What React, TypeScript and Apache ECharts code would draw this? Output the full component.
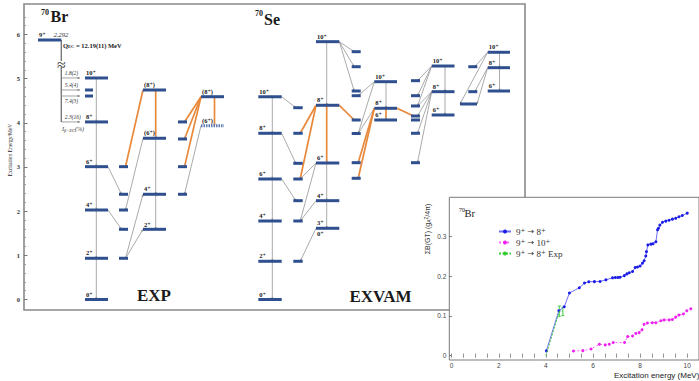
import { useEffect, useRef } from "react";
import * as echarts from "echarts";

// ---------------- DATA ----------------
type Level = { id: string; col: string; e: number; label?: string; below?: string; note?: string; dotted?: boolean };

// 70Br experimental levels (MeV)
const br70Levels: Level[] = [
  { id: "P9", col: "Q", e: 5.875, label: "9⁺", note: "2.292" },
  { id: "A10", col: "A", e: 5.015, label: "10⁺" },
  { id: "A8", col: "A", e: 4.02, label: "8⁺" },
  { id: "A6", col: "A", e: 3.007, label: "6⁺" },
  { id: "A4", col: "A", e: 2.026, label: "4⁺" },
  { id: "A2", col: "A", e: 0.933, label: "2⁺" },
  { id: "A0", col: "A", e: 0, label: "0⁺" },
  { id: "a1", col: "a", e: 4.743 },
  { id: "a2", col: "a", e: 4.607 },
  { id: "b1", col: "B", e: 3.007 },
  { id: "b2", col: "B", e: 2.382 },
  { id: "b3", col: "B", e: 2.026 },
  { id: "b4", col: "B", e: 1.589 },
  { id: "b5", col: "B", e: 0.933 },
  { id: "C8", col: "C", e: 4.743, label: "(8⁺)" },
  { id: "C6", col: "C", e: 3.65, label: "(6⁺)" },
  { id: "C4", col: "C", e: 2.382, label: "4⁺" },
  { id: "C2", col: "C", e: 1.589, label: "2⁺" },
  { id: "d1", col: "D", e: 4.02 },
  { id: "d2", col: "D", e: 3.634 },
  { id: "d3", col: "D", e: 3.007 },
  { id: "d4", col: "D", e: 2.382 },
  { id: "E8", col: "E", e: 4.591, label: "(8⁺)" },
  { id: "E6", col: "E", e: 3.935, label: "(6⁺)", dotted: true },
];

// 70Se EXVAM levels (MeV)
const se70Levels: Level[] = [
  { id: "F10", col: "F", e: 4.59, label: "10⁺" },
  { id: "F8", col: "F", e: 3.763, label: "8⁺" },
  { id: "F6", col: "F", e: 2.728, label: "6⁺" },
  { id: "F4", col: "F", e: 1.777, label: "4⁺" },
  { id: "F2", col: "F", e: 0.865, label: "2⁺" },
  { id: "F0", col: "F", e: 0, label: "0⁺" },
  { id: "g1", col: "G", e: 4.342 },
  { id: "g2", col: "G", e: 3.763 },
  { id: "g3", col: "G", e: 3.083 },
  { id: "g4", col: "G", e: 2.728 },
  { id: "g5", col: "G", e: 2.237 },
  { id: "g6", col: "G", e: 1.777 },
  { id: "g7", col: "G", e: 0.865 },
  { id: "H10", col: "H", e: 5.837, label: "10⁺" },
  { id: "H8", col: "H", e: 4.397, label: "8⁺" },
  { id: "H6", col: "H", e: 3.09, label: "6⁺" },
  { id: "H4", col: "H", e: 2.237, label: "4⁺" },
  { id: "H3", col: "H", e: 1.612, label: "3⁺", below: "0⁺" },
  { id: "i1", col: "I", e: 5.61 },
  { id: "i2", col: "I", e: 5.27 },
  { id: "i3", col: "I", e: 4.72 },
  { id: "i4", col: "I", e: 4.614 },
  { id: "i5", col: "I", e: 4.064 },
  { id: "i6", col: "I", e: 3.758 },
  { id: "i7", col: "I", e: 3.097 },
  { id: "i8", col: "I", e: 2.744 },
  { id: "J10", col: "J", e: 4.931, label: "10⁺" },
  { id: "J8", col: "J", e: 4.329, label: "8⁺" },
  { id: "J6", col: "J", e: 4.064, label: "6⁺" },
  { id: "k1", col: "K", e: 4.954 },
  { id: "k2", col: "K", e: 4.614 },
  { id: "k3", col: "K", e: 4.381 },
  { id: "k4", col: "K", e: 4.154 },
  { id: "k5", col: "K", e: 4.064 },
  { id: "k6", col: "K", e: 3.763 },
  { id: "k7", col: "K", e: 3.097 },
  { id: "L10", col: "L", e: 5.286, label: "10⁺" },
  { id: "L8", col: "L", e: 4.705, label: "8⁺" },
  { id: "L6", col: "L", e: 4.177, label: "6⁺" },
  { id: "m1", col: "M", e: 5.27 },
  { id: "m2", col: "M", e: 4.705 },
  { id: "w1", col: "W", e: 4.426 },
  { id: "N10", col: "N", e: 5.597, label: "10⁺" },
  { id: "N8", col: "N", e: 5.248, label: "8⁺" },
  { id: "N6", col: "N", e: 4.72, label: "6⁺" },
];

// gamma transitions [from, to, anchor?]
const br70GrayGammas: string[][] = [
  ["A10", "A8"], ["A8", "A6"], ["A6", "A4"], ["A4", "A2"], ["A2", "A0"],
  ["A6", "b2"], ["A4", "b4"], ["C6", "b3"], ["b5", "C4"], ["b5", "C2"],
  ["C6", "C4"], ["C4", "C2"], ["E6", "d4"],
];
const br70OrangeGammas: string[][] = [
  ["b1", "C8"], ["C8", "C6"], ["E8", "d1"], ["E8", "d2"], ["E8", "d3"], ["E8", "E6"],
];
const se70GrayGammas: string[][] = [
  ["F10", "F8"], ["F8", "F6"], ["F6", "F4"], ["F4", "F2"], ["F2", "F0"],
  ["F10", "g1"], ["F8", "g3"], ["F6", "g5"],
  ["H10", "H8"], ["H6", "H4"], ["H4", "H3"], ["H6", "g4"], ["H6", "g6"], ["H4", "g6"], ["H3", "g7"],
  ["H10", "i1"], ["H10", "i2"], ["H10", "i3"],
  ["J10", "J8"], ["J10", "i4"], ["J10", "i6"], ["J8", "i6"],
  ["L10", "L8"], ["L8", "L6"], ["L10", "k1"], ["L10", "k2"], ["L10", "k3"],
  ["L8", "k3"], ["L8", "k4"], ["L8", "k6"], ["L8", "k7"],
  ["N10", "N8"], ["N8", "N6"], ["N10", "m1"], ["N10", "w1", "L"], ["N8", "m2"], ["N8", "w1", "R"],
];
const se70OrangeGammas: string[][] = [
  ["H8", "H6"], ["H8", "g2"], ["H8", "g4"], ["H8", "i5"],
  ["J8", "J6"], ["J8", "i7"], ["J8", "i8"], ["J8", "k4"],
];

// beta feeding from the 9+ parent (I_beta+EC %)
const betaFeeding = [
  { to: "A10", intensity: "1.8(2)", below: false },
  { to: "a1", intensity: "5.4(4)", below: false },
  { to: "a2", intensity: "7.4(3)", below: true },
  { to: "A8", intensity: "2.3(16)", below: false },
];

// inset: summed B(GT) vs excitation energy
const blueEx = [4.02, 4.55, 4.78, 5.0, 5.42, 5.64, 5.82, 6.06, 6.3, 6.55, 6.83, 6.95, 7.06, 7.15, 7.33, 7.44, 7.54, 7.68, 7.79, 7.89, 8.0, 8.1, 8.17, 8.24, 8.27, 8.33, 8.46, 8.55, 8.67, 8.74, 8.78, 8.84, 8.95, 9.09, 9.23, 9.37, 9.51, 9.65, 9.79, 10.0];
const blueBGT = [0.012, 0.113, 0.123, 0.158, 0.171, 0.183, 0.186, 0.1865, 0.187, 0.191, 0.196, 0.197, 0.197, 0.1975, 0.2016, 0.206, 0.209, 0.212, 0.222, 0.2235, 0.226, 0.233, 0.239, 0.251, 0.262, 0.279, 0.281, 0.282, 0.287, 0.317, 0.321, 0.329, 0.336, 0.339, 0.341, 0.344, 0.346, 0.35, 0.353, 0.359];
const pinkEx = [5.17, 5.57, 5.92, 6.27, 6.52, 6.69, 6.86, 7.34, 7.47, 7.68, 7.82, 7.96, 8.08, 8.17, 8.31, 8.52, 8.67, 8.88, 9.02, 9.23, 9.37, 9.51, 9.65, 9.84, 9.98, 10.15];
const pinkBGT = [0.0118, 0.0126, 0.0169, 0.0287, 0.027, 0.0287, 0.033, 0.033, 0.048, 0.0496, 0.056, 0.058, 0.065, 0.079, 0.082, 0.083, 0.083, 0.088, 0.09, 0.09, 0.091, 0.097, 0.1025, 0.105, 0.113, 0.118];
const greenEx = [4.0, 4.57, 4.72];
const greenBGT = [0.0, 0.112, 0.112];
const greenLow = [0.0, 0.099, 0.101];
const greenHigh = [0.0, 0.125, 0.122];

const mainTicks = [0, 1, 2, 3, 4, 5, 6];
const insetYTicks = [0, 0.1, 0.2, 0.3];
const insetXLabels = [0, 2, 4, 6, 8, 10];

// ---------------- LAYOUT ----------------
const COLUMNS: Record<string, { x0: number; x1: number; vx?: number }> = {
  Q: { x0: 38, x1: 61.3 },
  A: { x0: 85, x1: 108, vx: 96.3 },
  a: { x0: 85, x1: 93 },
  B: { x0: 119, x1: 128 },
  C: { x0: 143, x1: 166, vx: 155.7 },
  D: { x0: 178, x1: 187 },
  E: { x0: 201, x1: 224, vx: 214.5 },
  F: { x0: 258.3, x1: 281.7, vx: 272.3 },
  G: { x0: 293.3, x1: 302.7 },
  H: { x0: 316, x1: 339.3, vx: 326.7 },
  I: { x0: 351.7, x1: 360.7 },
  J: { x0: 374.3, x1: 397, vx: 386 },
  K: { x0: 411, x1: 420 },
  L: { x0: 431.7, x1: 454.5, vx: 445 },
  M: { x0: 468.3, x1: 477.3 },
  W: { x0: 460, x1: 477 },
  N: { x0: 487.7, x1: 510, vx: 499.5 },
};
const FEED_END_X = 80;
const BREAK_E = 5.33;

const LEVEL_COLOR = "#2f4f8f";
const GRAY = "#a0a0a0";
const ORANGE = "#e8893c";
const SERIF = '"Liberation Serif", "DejaVu Serif", serif';
const SANS = '"Liberation Sans", Arial, sans-serif';

const allLevels = [...br70Levels, ...se70Levels];
const levelById = new Map(allLevels.map((l) => [l.id, l]));

function gammaSegment(t: string[]): number[] {
  const a = levelById.get(t[0])!;
  const b = levelById.get(t[1])!;
  const ca = COLUMNS[a.col];
  const cb = COLUMNS[b.col];
  if (a.col === b.col) return [ca.vx!, a.e, ca.vx!, b.e];
  const ins = (c: { x0: number; x1: number }) => (c.x1 - c.x0 < 12 ? 2.5 : 0);
  let xa: number;
  let xb: number;
  if (ca.x1 <= cb.x0 + 0.1) {
    xa = ca.x1 - ins(ca);
    xb = cb.x0 + ins(cb);
  } else {
    xa = ca.x0 + ins(ca);
    xb = cb.x1 - ins(cb);
  }
  if (t[2] === "L") xb = cb.x0;
  if (t[2] === "R") xb = cb.x1;
  return [xa, a.e, xb, b.e];
}

function arrowHead(x1: number, y1: number, x2: number, y2: number, color: string, s = 2.6) {
  const dx = x2 - x1;
  const dy = y2 - y1;
  const len = Math.hypot(dx, dy) || 1;
  const ux = dx / len;
  const uy = dy / len;
  return {
    type: "polygon",
    shape: {
      points: [
        [x2, y2],
        [x2 - ux * s - uy * s * 0.45, y2 - uy * s + ux * s * 0.45],
        [x2 - ux * s + uy * s * 0.45, y2 - uy * s - ux * s * 0.45],
      ],
    },
    style: { fill: color },
  };
}

function txt(text: string, x: number, y: number, font: string, align = "left", valign = "middle", extra: any = {}) {
  return {
    type: "text",
    x,
    y,
    z: 10,
    style: { text, font, fill: "#1a1a1a", align, verticalAlign: valign, textAlign: align, textVerticalAlign: valign, ...extra },
  };
}

function gammaSeries(list: string[][], color: string, width: number, z: number) {
  return {
    type: "custom",
    xAxisIndex: 0,
    yAxisIndex: 0,
    z,
    silent: true,
    data: list.map(gammaSegment),
    encode: { x: [0, 2], y: [1, 3] },
    renderItem: (_p: any, api: any) => {
      const p1 = api.coord([api.value(0), api.value(1)]);
      const p2 = api.coord([api.value(2), api.value(3)]);
      return {
        type: "group",
        children: [
          { type: "line", shape: { x1: p1[0], y1: p1[1], x2: p2[0], y2: p2[1] }, style: { stroke: color, lineWidth: width } },
          arrowHead(p1[0], p1[1], p2[0], p2[1], color === ORANGE ? "#999" : "#888", 2.2),
        ],
      };
    },
  };
}

function buildOption(): any {
  const levelSeries = {
    type: "custom",
    xAxisIndex: 0,
    yAxisIndex: 0,
    z: 5,
    silent: true,
    data: allLevels.map((l) => [COLUMNS[l.col].x0, COLUMNS[l.col].x1, l.e]),
    encode: { x: [0, 1], y: 2 },
    renderItem: (params: any, api: any) => {
      const lv = allLevels[params.dataIndex];
      const p0 = api.coord([api.value(0), api.value(2)]);
      const p1 = api.coord([api.value(1), api.value(2)]);
      const children: any[] = [
        {
          type: "line",
          shape: { x1: p0[0], y1: p0[1], x2: p1[0], y2: p1[1] },
          style: { stroke: lv.dotted ? "#5b78b3" : LEVEL_COLOR, lineWidth: 3, lineDash: lv.dotted ? [1.5, 1] : null },
        },
      ];
      const font = `bold 6.5px ${SERIF}`;
      if (lv.label)
        children.push({ type: "text", x: p0[0] + 1, y: p0[1] - 1.8, style: { text: lv.label, font, fill: "#1a1a1a", align: "left", verticalAlign: "bottom" } });
      if (lv.below)
        children.push({ type: "text", x: p0[0] + 1, y: p0[1] + 2, style: { text: lv.below, font, fill: "#1a1a1a", align: "left", verticalAlign: "top" } });
      if (lv.note)
        children.push({ type: "text", x: p1[0] + 7, y: p0[1] - 1.8, style: { text: lv.note, font: `italic 6.5px ${SERIF}`, fill: "#1a1a1a", align: "right", verticalAlign: "bottom" } });
      return { type: "group", children };
    },
  };

  const parent = levelById.get("P9")!;
  const parentLine = {
    type: "custom",
    xAxisIndex: 0,
    yAxisIndex: 0,
    z: 3,
    silent: true,
    data: [[COLUMNS.Q.x1, parent.e, levelById.get("A8")!.e]],
    encode: { x: 0, y: [1, 2] },
    renderItem: (_p: any, api: any) => {
      const a = api.coord([api.value(0), api.value(1)]);
      const b = api.coord([api.value(0), api.value(2)]);
      const br = api.coord([api.value(0), BREAK_E]);
      return {
        type: "group",
        children: [
          { type: "line", shape: { x1: a[0], y1: a[1], x2: b[0], y2: b[1] }, style: { stroke: "#7a7a7a", lineWidth: 1.4 } },
          { type: "rect", shape: { x: br[0] - 8, y: br[1] - 3, width: 16, height: 6 }, style: { fill: "#fff" } },
          { type: "text", x: br[0], y: br[1], style: { text: "≈", font: `16px ${SERIF}`, fill: "#333", align: "center", verticalAlign: "middle" } },
        ],
      };
    },
  };

  const feedSeries = {
    type: "custom",
    xAxisIndex: 0,
    yAxisIndex: 0,
    z: 3,
    silent: true,
    data: betaFeeding.map((f) => [COLUMNS.Q.x1, levelById.get(f.to)!.e, FEED_END_X]),
    encode: { x: [0, 2], y: 1 },
    renderItem: (params: any, api: any) => {
      const f = betaFeeding[params.dataIndex];
      const a = api.coord([api.value(0), api.value(1)]);
      const b = api.coord([api.value(2), api.value(1)]);
      return {
        type: "group",
        children: [
          { type: "line", shape: { x1: a[0], y1: a[1], x2: b[0], y2: b[1] }, style: { stroke: "#8a8a8a", lineWidth: 0.8 } },
          arrowHead(a[0], a[1], b[0], b[1], "#777", 2.4),
          {
            type: "text",
            x: a[0] + 3.5,
            y: f.below ? a[1] + 1.5 : a[1] - 1.5,
            style: { text: f.intensity, font: `italic 5.5px ${SERIF}`, fill: "#333", align: "left", verticalAlign: f.below ? "top" : "bottom" },
          },
        ],
      };
    },
  };

  const errSeries = {
    type: "custom",
    xAxisIndex: 1,
    yAxisIndex: 2,
    z: 6,
    silent: true,
    data: greenEx.map((x, i) => [x, greenLow[i], greenHigh[i]]).filter((d) => d[2] > d[1]),
    encode: { x: 0, y: [1, 2] },
    renderItem: (_p: any, api: any) => {
      const lo = api.coord([api.value(0), api.value(1)]);
      const hi = api.coord([api.value(0), api.value(2)]);
      const st = { stroke: "#33cc33", lineWidth: 0.9 };
      return {
        type: "group",
        children: [
          { type: "line", shape: { x1: lo[0], y1: lo[1], x2: hi[0], y2: hi[1] }, style: st },
          { type: "line", shape: { x1: lo[0] - 1.5, y1: lo[1], x2: lo[0] + 1.5, y2: lo[1] }, style: st },
          { type: "line", shape: { x1: hi[0] - 1.5, y1: hi[1], x2: hi[0] + 1.5, y2: hi[1] }, style: st },
        ],
      };
    },
  };

  const halfTicks = Array.from({ length: 22 }, (_, i) => i * 0.5);
  const mainMinor: number[] = [];
  for (let k = 0; k < 7; k++) for (let j = 1; j < 5; j++) if (k + j * 0.2 < 6.6) mainMinor.push(k + j * 0.2);

  return {
    animation: false,
    backgroundColor: "#fff",
    grid: [
      { left: 24, right: 174, top: 4, bottom: 71, show: true, borderColor: "#8a8a8a", borderWidth: 1.6, backgroundColor: "#fff", z: 0 },
      { left: 449.3, right: -1, top: 197.3, bottom: 21, show: true, borderColor: "#7a7a7a", borderWidth: 1, backgroundColor: "#fff", z: 1 },
    ],
    xAxis: [
      { gridIndex: 0, type: "value", min: 24, max: 525, show: false },
      {
        gridIndex: 1, type: "value", min: -0.1, max: 10.5, position: "bottom", z: 3,
        axisLine: { show: false }, splitLine: { show: false },
        axisTick: { show: true, inside: true, length: 2, customValues: halfTicks, lineStyle: { color: "#888" } },
        axisLabel: { customValues: insetXLabels, fontSize: 6.5, color: "#444", fontFamily: SANS, margin: 2 },
      },
      {
        gridIndex: 1, type: "value", min: -0.1, max: 10.5, position: "top", z: 3,
        axisLine: { show: false }, splitLine: { show: false },
        axisTick: { show: true, inside: true, length: 2, customValues: halfTicks, lineStyle: { color: "#888" } },
        axisLabel: { show: false },
      },
    ],
    yAxis: [
      {
        gridIndex: 0, type: "value", min: -0.238, max: 6.69, position: "left",
        axisLine: { show: false }, splitLine: { show: false },
        axisTick: { show: true, inside: true, length: 3.5, customValues: mainTicks, lineStyle: { color: "#777" } },
        axisLabel: { customValues: mainTicks, fontSize: 6.5, fontWeight: "bold", fontFamily: SERIF, color: "#333", margin: 4 },
      },
      {
        gridIndex: 0, type: "value", min: -0.238, max: 6.69, position: "left",
        axisLine: { show: false }, splitLine: { show: false },
        axisTick: { show: true, inside: true, length: 2, customValues: mainMinor, lineStyle: { color: "#999" } },
        axisLabel: { show: false },
      },
      {
        gridIndex: 1, type: "value", min: -0.011, max: 0.399, position: "left", z: 3,
        axisLine: { show: false }, splitLine: { show: false },
        axisTick: { show: true, inside: false, length: 2.5, customValues: insetYTicks, lineStyle: { color: "#777" } },
        axisLabel: {
          customValues: insetYTicks, fontSize: 6.5, color: "#444", fontFamily: SANS, margin: 3,
          formatter: (v: number) => (v === 0 ? "0" : v.toFixed(1)),
        },
      },
      {
        gridIndex: 1, type: "value", min: -0.011, max: 0.399, position: "right", z: 3,
        axisLine: { show: false }, splitLine: { show: false },
        axisTick: { show: true, inside: true, length: 2.5, customValues: insetYTicks, lineStyle: { color: "#777" } },
        axisLabel: { show: false },
      },
    ],
    legend: {
      data: ["9⁺ → 8⁺", "9⁺ → 10⁺", "9⁺ → 8⁺ Exp"],
      left: 498, top: 227, orient: "vertical", itemWidth: 12, itemHeight: 5, itemGap: 2, padding: 0,
      selectedMode: false,
      formatter: (name: string) => name.split("→").join("{a|→}"),
      textStyle: {
        fontFamily: SERIF, fontSize: 9, color: "#333",
        rich: { a: { fontFamily: '"DejaVu Sans", sans-serif', fontSize: 8, color: "#333" } },
      },
    },
    series: [
      gammaSeries([...br70GrayGammas, ...se70GrayGammas], GRAY, 0.9, 2),
      gammaSeries([...br70OrangeGammas, ...se70OrangeGammas], ORANGE, 1.7, 3),
      parentLine,
      feedSeries,
      levelSeries,
      {
        name: "9⁺ → 8⁺", type: "line", xAxisIndex: 1, yAxisIndex: 2, z: 6,
        data: blueEx.map((x, i) => [x, blueBGT[i]]),
        symbol: "circle", symbolSize: 3, showSymbol: true,
        lineStyle: { color: "#6e6ef5", width: 1 }, itemStyle: { color: "#1c1ce8" },
      },
      {
        name: "9⁺ → 10⁺", type: "line", xAxisIndex: 1, yAxisIndex: 2, z: 6,
        data: pinkEx.map((x, i) => [x, pinkBGT[i]]),
        symbol: "circle", symbolSize: 3, showSymbol: true,
        lineStyle: { color: "#ff66ff", width: 1, type: [2, 2] }, itemStyle: { color: "#ee22ee" },
      },
      {
        name: "9⁺ → 8⁺ Exp", type: "line", xAxisIndex: 1, yAxisIndex: 2, z: 7,
        data: greenEx.map((x, i) => [x, greenBGT[i]]),
        symbol: "none",
        lineStyle: { color: "#33cc33", width: 1, type: [2, 1.5] }, itemStyle: { color: "#33cc33" },
      },
      errSeries,
    ],
    graphic: [
      txt("70", 41, 12, `bold 8px ${SERIF}`),
      txt("Br", 50.5, 16.5, `bold 16px ${SERIF}`),
      txt("70", 255, 13, `bold 8px ${SERIF}`),
      txt("Se", 264, 19, `bold 16px ${SERIF}`),
      txt("EXP", 154, 295, `bold 17px ${SERIF}`, "center"),
      txt("EXVAM", 380.5, 296, `bold 17px ${SERIF}`, "center"),
      {
        type: "text", x: 63, y: 45, z: 10,
        style: {
          text: "{q|Q}{s|EC}{q| = 12.19(11) MeV}",
          align: "left", verticalAlign: "middle", textAlign: "left", textVerticalAlign: "middle",
          rich: {
            q: { font: `bold 6.5px ${SERIF}`, fill: "#1a1a1a" },
            s: { font: `bold 4.5px ${SERIF}`, fill: "#1a1a1a", padding: [3, 0, 0, 0] },
          },
        },
      },
      {
        type: "text", x: 62, y: 128.5, z: 10,
        style: {
          text: "{q|I}{s|β+EC}{q|(%)}",
          align: "left", verticalAlign: "middle", textAlign: "left", textVerticalAlign: "middle",
          rich: {
            q: { font: `italic 6px ${SERIF}`, fill: "#333" },
            s: { font: `italic 4.5px ${SERIF}`, fill: "#333", padding: [3, 0, 0, 0] },
          },
        },
      },
      { ...txt("Excitation Energy/MeV", 10, 150, `5.5px ${SERIF}`, "center"), rotation: Math.PI / 2 },
      txt("70", 459, 210, `6px ${SERIF}`),
      txt("Br", 464.5, 213.5, `10.5px ${SERIF}`),
      txt("Excitation energy (MeV)", 614, 375, `8px ${SANS}`),
      {
        type: "text", x: 427, y: 229, z: 10, rotation: Math.PI / 2,
        style: {
          text: "{n|ΣB(GT) (g}{s|A}{u|2}{n|/4π)}",
          align: "center", verticalAlign: "middle", textAlign: "center", textVerticalAlign: "middle",
          rich: {
            n: { font: `7px ${SANS}`, fill: "#333" },
            s: { font: `5px ${SANS}`, fill: "#333", padding: [3, 0, 0, 0] },
            u: { font: `5px ${SANS}`, fill: "#333", padding: [0, 0, 3, 0] },
          },
        },
      },
    ],
  };
}

export default function App() {
  const ref = useRef<HTMLDivElement>(null);
  useEffect(() => {
    const chart = echarts.init(ref.current!, null, { renderer: "svg" });
    chart.setOption(buildOption());
    return () => chart.dispose();
  }, []);
  return <div ref={ref} style={{ position: "absolute", left: 0, top: 0, width: 699, height: 381 }} />;
}
